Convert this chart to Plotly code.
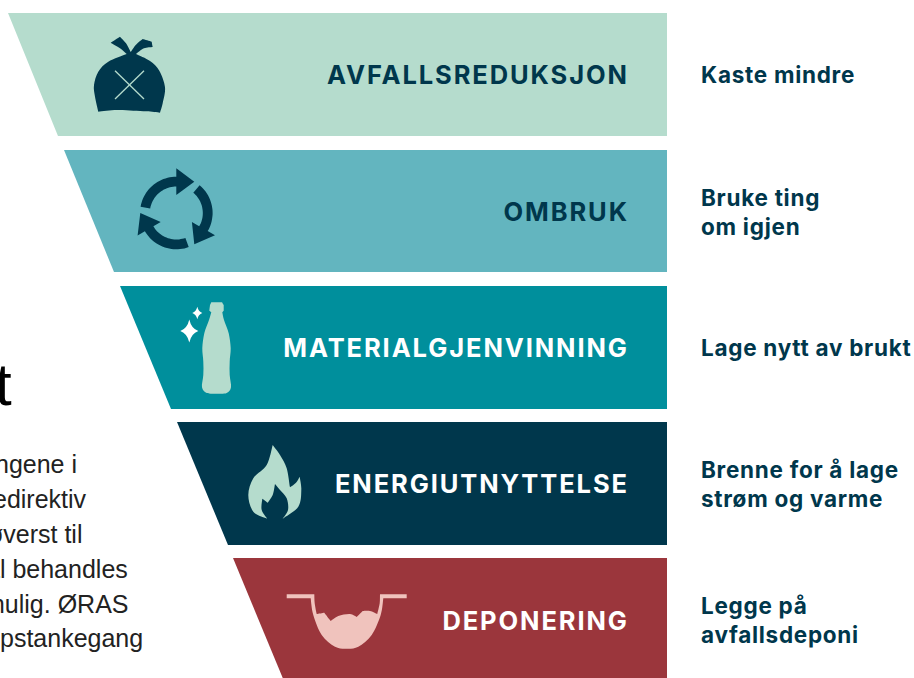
import numpy as np
import plotly.graph_objects as go

# ---- funnel data ----
STAGES = ["AVFALLSREDUKSJON", "OMBRUK", "MATERIALGJENVINNING", "ENERGIUTNYTTELSE", "DEPONERING"]
ACTIONS = ["Kaste mindre", "Bruke ting<br>om igjen", "Lage nytt av brukt",
           "Brenne for å lage<br>strøm og varme", "Legge på<br>avfallsdeponi"]
TOP = [13, 150, 286, 422, 558]
BOTTOM = [136, 272, 409, 545, 681]
LEFT_TOP = [8, 64, 120, 177, 233]
LEFT_BOTTOM = [58, 114, 171, 228, 284]
RIGHT_EDGE = 667
FILLS = ["#b5dccd", "#63b5bf", "#008f9c", "#00374c", "#9b363c"]
LABEL_COLORS = ["#00374c", "#00374c", "#ffffff", "#ffffff", "#ffffff"]
STAGE_Y = [78, 215, 351, 487, 624]
ACTION_Y = [77.5, 214.5, 350.5, 486.5, 623]
BODY_LINES = ["ngene i", "edirektiv", "øverst til", "al behandles", "mulig. ØRAS", "pstankegang"]
BODY_Y = [464, 499, 534, 569, 604, 638]
BODY_RIGHT = [79, 89, 84, 130, 130, 145]

DARK, MINT, PINK = "#00374c", "#b5dccd", "#f0c3bd"
STAGE_SIZE, ACTION_SIZE = 25.5, 22.5
STAGE_SPACING, ACTION_SPACING = 1.9, 0.72

fig = go.Figure()
for i in range(5):
    fig.add_trace(go.Scatter(
        x=[LEFT_TOP[i], RIGHT_EDGE, RIGHT_EDGE, LEFT_BOTTOM[i], LEFT_TOP[i]],
        y=[TOP[i], TOP[i], BOTTOM[i], BOTTOM[i], TOP[i]],
        mode="lines", fill="toself", fillcolor=FILLS[i], line=dict(width=0),
        hoverinfo="skip", showlegend=False))

fig.add_trace(go.Scatter(
    x=[627 + STAGE_SPACING] * 5, y=STAGE_Y, mode="text", text=STAGES,
    textposition="middle left", cliponaxis=False, hoverinfo="skip", showlegend=False,
    textfont=dict(family="Inter", size=STAGE_SIZE, color=LABEL_COLORS, weight=700)))
fig.add_trace(go.Scatter(
    x=[701] * 5, y=ACTION_Y, mode="text", text=ACTIONS,
    textposition="middle right", cliponaxis=False, hoverinfo="skip", showlegend=False,
    textfont=dict(family="Inter", size=ACTION_SIZE, color=DARK, weight=700)))

shapes = []
def add_path(d, color):
    shapes.append(dict(type="path", path=d, fillcolor=color, line=dict(width=0), layer="above"))

def poly(pts, ox=0, oy=0, s=1/3):
    return "M" + " L".join(f"{ox + x*s:.1f},{oy + y*s:.1f}" for x, y in pts) + " Z"

def smooth(segments, ox=0, oy=0, s=1/3):
    """Closed path built from open curve segments, joined at sharp corners."""
    P = lambda p: (ox + p[0]*s, oy + p[1]*s)
    first = P(segments[0][0])
    d = f"M{first[0]:.1f},{first[1]:.1f}"
    for seg in segments:
        pts = [P(p) for p in seg]
        for i in range(len(pts) - 1):
            p0 = pts[max(i - 1, 0)]; p1 = pts[i]; p2 = pts[i + 1]; p3 = pts[min(i + 2, len(pts) - 1)]
            c1 = (p1[0] + (p2[0] - p0[0]) / 6, p1[1] + (p2[1] - p0[1]) / 6)
            c2 = (p2[0] - (p3[0] - p1[0]) / 6, p2[1] - (p3[1] - p1[1]) / 6)
            d += f" C{c1[0]:.1f},{c1[1]:.1f} {c2[0]:.1f},{c2[1]:.1f} {p2[0]:.1f},{p2[1]:.1f}"
    return d + " Z"

# bag
add_path(smooth([
    [(332,128),(360,110)],
    [(360,110),(378,130),(392,156)],
    [(392,156),(408,134),(428,117)],
    [(428,117),(455,125)],
    [(455,125),(458,141)],
    [(458,141),(432,145),(408,162)],
    [(408,162),(450,183),(478,212),(495,262),(488,310),(480,338)],
    [(480,338),(440,334),(400,332),(350,330),(295,335)],
    [(295,335),(285,290),(282,255),(295,215),(325,185),(380,162)],
    [(380,162),(360,145),(332,128)],
]), DARK)
for a, b in [((345,212),(432,297)), ((432,212),(345,297))]:
    shapes.append(dict(type="line", x0=a[0]/3, y0=a[1]/3, x1=b[0]/3, y1=b[1]/3,
                       line=dict(color=MINT, width=1.3), layer="above"))

# recycle arrows
cx, cy = 176.3, 213.0
def pt(deg, r):
    t = np.radians(deg)
    return (cx + r*np.sin(t), cy - r*np.cos(t))
for rot in (0, 120, 240):
    outer = [pt(a + rot, 36.3) for a in np.linspace(-80, 0, 24)]
    inner = [pt(a + rot, 26.5) for a in np.linspace(0, -80, 24)]
    head = [pt(rot, 44.7), pt(rot + 30, 36.0), pt(rot, 18.0)]
    add_path(poly(outer + head + inner, s=1), DARK)

# bottle
add_path(smooth([
    [(630,75),(634,67)], [(634,67),(666,67)], [(666,67),(671,75)], [(671,75),(671,92)], [(671,92),(667,97)],
    [(667,97),(672,120),(686,160),(692,205),(689,245),(689,285),(693,322),(680,339),(650,341),(620,339),(606,322),
     (610,285),(610,245),(607,205),(613,160),(627,120),(634,97)],
    [(634,97),(628,92)], [(628,92),(630,75)],
], 0, 280), MINT)

def sparkle(x, y, w, h):
    k = 0.22
    return (f"M{x},{y-h} Q{x+w*k},{y-h*k} {x+w},{y} Q{x+w*k},{y+h*k} {x},{y+h} "
            f"Q{x-w*k},{y+h*k} {x-w},{y} Q{x-w*k},{y-h*k} {x},{y-h} Z")
add_path(sparkle(189.3, 331, 9, 11.5), "#ffffff")
add_path(sparkle(197.3, 313, 5, 6.2), "#ffffff")

# flame
add_path(smooth([
    [(818,495),(840,525),(860,565),(870,622)],
    [(870,622),(888,608),(899,590)],
    [(899,590),(904,630),(895,680),(848,716)],
    [(848,716),(864,690),(860,655),(840,630),(825,612)],
    [(825,612),(818,645),(803,668)],
    [(803,668),(787,656)],
    [(787,656),(785,690),(802,716)],
    [(802,716),(760,695),(745,645),(760,595),(800,555),(818,495)],
], 0, 280), MINT)

# landfill
add_path(smooth([
    [(200,163),(283,163)],
    [(283,163),(284,190),(290,222)],
    [(290,222),(313,218)],
    [(313,218),(332,243)],
    [(332,243),(355,228),(390,222),(410,231)],
    [(410,231),(428,213)],
    [(428,213),(450,213),(472,222)],
    [(472,222),(479,190),(480,163)],
    [(480,163),(560,163)],
    [(560,163),(560,175)],
    [(560,175),(490,175)],
    [(490,175),(482,225),(455,285),(415,320),(380,326),(345,320),(305,285),(280,225),(272,175)],
    [(272,175),(200,175)],
], 220, 540), PINK)

ann = []
for t, y, r in zip(BODY_LINES, BODY_Y, BODY_RIGHT):
    ann.append(dict(x=r, y=y, text=t, showarrow=False, xanchor="right", yanchor="middle",
                    font=dict(family="Liberation Sans", size=25, color="#222222")))
ann.append(dict(x=14, y=384, text="t", showarrow=False, xanchor="right", yanchor="middle",
                font=dict(family="Liberation Sans", size=60, color="#000000")))

fig.update_layout(
    width=914, height=678, margin=dict(l=0, r=0, t=0, b=0),
    paper_bgcolor="#ffffff", plot_bgcolor="#ffffff",
    xaxis=dict(range=[0, 914], visible=False, fixedrange=True),
    yaxis=dict(range=[678, 0], visible=False, fixedrange=True),
    shapes=shapes, annotations=ann, showlegend=False)

post = """
document.body.style.margin='0';
document.body.style.overflow='hidden';
document.querySelectorAll('.textpoint text').forEach(function(el){
  var s=parseFloat(el.style.fontSize);
  el.style.letterSpacing = (s>24 ? %s : %s)+'px';
});
""" % (STAGE_SPACING, ACTION_SPACING)
fig.write_html("out.html", config=dict(displayModeBar=False), post_script=post)
